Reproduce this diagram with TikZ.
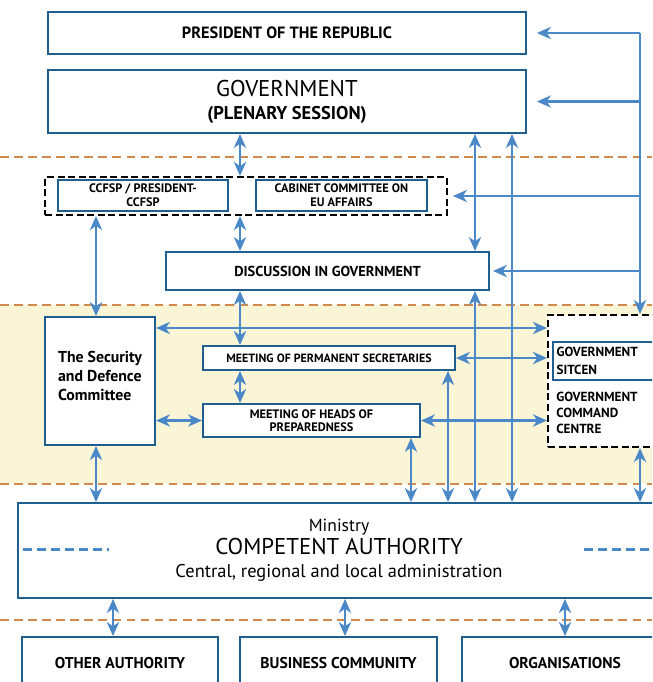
\documentclass[tikz,border=0pt]{standalone}
\usepackage{fontspec}
\setmainfont{PT Sans}
\usetikzlibrary{arrows.meta,positioning}
\definecolor{boxblue}{HTML}{1F5E8E}
\definecolor{arrblue}{HTML}{4A88C8}
\definecolor{sepor}{HTML}{D08A4E}
\definecolor{band}{HTML}{FBF5D8}

\begin{document}
\begin{tikzpicture}[x=0.02cm,y=-0.02cm]
    \tikzset{
        box/.style = {rectangle, draw=boxblue, fill=white, line width=1.1pt, inner sep=0pt, align=center},
        grp/.style = {rectangle, draw=black, fill=white, line width=1.2pt, dash pattern=on 4pt off 2pt, inner sep=0pt},
        line/.style = {draw=arrblue, line width=1.2pt, -{Stealth[length=8pt,width=7pt,inset=2.5pt]}},
        dline/.style = {draw=arrblue, line width=1.2pt, {Stealth[length=8pt,width=7pt,inset=2.5pt]}-{Stealth[length=8pt,width=7pt,inset=2.5pt]}},
        sep/.style = {draw=sepor, line width=1pt, dash pattern=on 5pt off 3pt}
    }

    \clip (0,0) rectangle (652,682);
    \fill[band] (0,305) rectangle (652,484);
    \path[sep] (0,157) -- (652,157);
    \path[sep] (0,305) -- (652,305);
    \path[sep] (0,484) -- (652,484);
    \path[sep] (0,620) -- (652,620);

    \node[box, minimum width=9.56cm, minimum height=0.84cm, font=\bfseries\fontsize{9.3}{11}\selectfont](pres) at (287,33){PRESIDENT OF THE REPUBLIC};
    \node[box, minimum width=9.56cm, minimum height=1.26cm](gov) at (287,101.5){\fontsize{13}{15}\selectfont GOVERNMENT\\[1pt]\bfseries\fontsize{10.5}{12}\selectfont (PLENARY SESSION)};

    \node[grp, minimum width=8.04cm, minimum height=0.76cm](prep) at (246,196){};
    \node[box, minimum width=3.4cm, minimum height=0.62cm, font=\bfseries\fontsize{7}{8}\selectfont](ccfsp) at (143,195.5){CCFSP / PRESIDENT-\\CCFSP};
    \node[box, minimum width=3.42cm, minimum height=0.62cm, font=\bfseries\fontsize{7}{8}\selectfont](eu) at (341.5,195.5){CABINET COMMITTEE ON\\EU AFFAIRS};

    \node[box, minimum width=6.46cm, minimum height=0.76cm, font=\bfseries\fontsize{8.2}{10}\selectfont](disc) at (327.5,271){DISCUSSION IN GOVERNMENT};

    \node[box, minimum width=2.2cm, minimum height=2.56cm, align=left, font=\bfseries\fontsize{9}{11}\selectfont](sdc) at (100,381){The Security\\and Defence\\Committee\\[-5pt]};
    \node[box, minimum width=5.04cm, minimum height=0.48cm, font=\bfseries\fontsize{6.8}{8}\selectfont](mps) at (329,358){MEETING OF PERMANENT SECRETARIES};
    \node[box, minimum width=4.34cm, minimum height=0.66cm, font=\bfseries\fontsize{7}{7.5}\selectfont](mhp) at (311.5,420.5){MEETING OF HEADS OF\\PREPAREDNESS};

    \node[grp, minimum width=2.64cm, minimum height=2.64cm](sit) at (614,381){};
    \node[box, minimum width=2.54cm, minimum height=0.76cm, text width=2.4cm, align=left, font=\bfseries\fontsize{7.5}{10}\selectfont](sitcen) at (616.5,361){GOVERNMENT\\SITCEN};
    \node[anchor=west, align=left, inner sep=0pt, font=\bfseries\fontsize{7.5}{9}\selectfont](gcc) at (556,413){GOVERNMENT\\COMMAND\\CENTRE};

    \node[box, minimum width=12.84cm, minimum height=1.9cm](min) at (339,550.5){\fontsize{10}{12}\selectfont Ministry\\[1pt]\fontsize{13}{15}\selectfont COMPETENT AUTHORITY\\[1pt]\fontsize{10.5}{13}\selectfont Central, regional and local administration};

    \node[box, minimum width=3.92cm, minimum height=1.06cm, font=\bfseries\fontsize{8.9}{11}\selectfont](other) at (120,663.5){OTHER AUTHORITY};
    \node[box, minimum width=3.94cm, minimum height=1.06cm, font=\bfseries\fontsize{8.9}{11}\selectfont](biz) at (338.5,663.5){BUSINESS COMMUNITY};
    \node[box, minimum width=4.12cm, minimum height=1.06cm, font=\bfseries\fontsize{8.9}{11}\selectfont](orgs) at (565,663.5){ORGANISATIONS};

    \coordinate (lft) at (96,0);
    \coordinate (mid) at (240,0);
    \coordinate (hx) at (411,0);
    \coordinate (px) at (448,0);
    \coordinate (dx) at (475,0);
    \coordinate (gx) at (512,0);
    \coordinate (rail) at (640,0);
    \coordinate (hy) at (0,328);
    \coordinate (b1) at (113,0);
    \coordinate (b2) at (345,0);
    \coordinate (b3) at (565,0);

    \path[line] (pres.east -| rail) -- (sit.north -| rail);
    \path[line, shorten >=0.2cm] (pres.east -| rail) -- (pres.east);
    \path[line, shorten >=0.2cm] (gov.east -| rail) -- (gov.east);
    \path[line, shorten >=0.1cm] (prep.east -| rail) -- (prep.east);
    \path[line, shorten >=0.06cm] (disc.east -| rail) -- (disc.east);

    \path[dline] (gov.south -| mid) -- (prep.north -| mid);
    \path[dline] (prep.south -| mid) -- (disc.north -| mid);
    \path[dline] (disc.south -| mid) -- (mps.north -| mid);
    \path[dline] (mps.south -| mid) -- (mhp.north -| mid);

    \path[dline] (prep.south -| lft) -- (sdc.north -| lft);
    \path[dline] (sdc.south -| lft) -- (min.north -| lft);

    \path[dline] (gov.south -| dx) -- (disc.north -| dx);
    \path[dline] (disc.south -| dx) -- (min.north -| dx);
    \path[dline] (gov.south -| gx) -- (min.north -| gx);
    \path[dline] (mps.south -| px) -- (min.north -| px);
    \path[dline] (mhp.south -| hx) -- (min.north -| hx);
    \path[dline] (sit.south -| rail) -- (min.north -| rail);

    \path[dline] (sdc.east |- hy) -- (sit.west |- hy);
    \path[dline] (mps.east) -- (sit.west |- mps.east);
    \path[dline] (sdc.east |- mhp.west) -- (mhp.west);
    \path[dline] (mhp.east) -- (sit.west |- mhp.east);

    \path[dline] (min.south -| b1) -- (other.north -| b1);
    \path[dline] (min.south -| b2) -- (biz.north -| b2);
    \path[dline] (min.south -| b3) -- (orgs.north -| b3);

    \path[draw=arrblue, line width=1.2pt, dash pattern=on 5pt off 3pt] (min.west) ++(6,-1) -- ++(86,0);
    \path[draw=arrblue, line width=1.2pt, dash pattern=on 5pt off 3pt] (min.west) ++(567,-1) -- ++(70,0);

\end{tikzpicture}
\end{document}
